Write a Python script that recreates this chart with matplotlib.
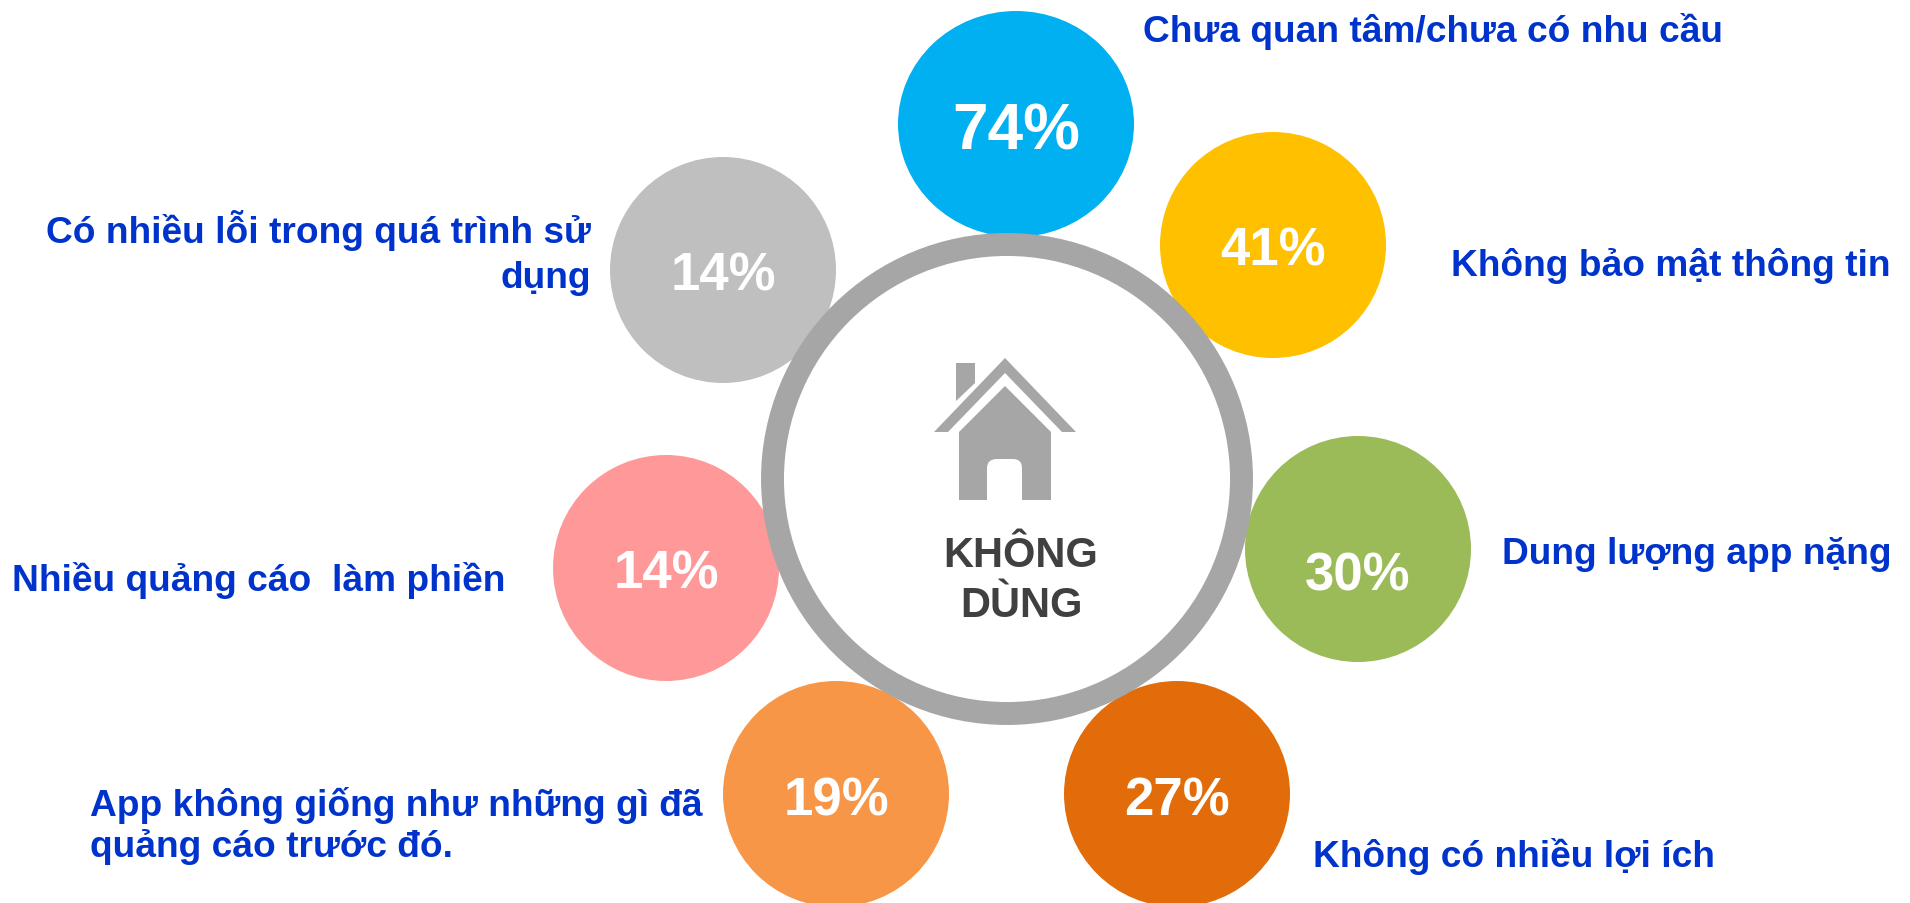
import matplotlib
matplotlib.use('Agg')
import matplotlib.pyplot as plt
from matplotlib.patches import Ellipse, Polygon, Circle, PathPatch
from matplotlib.path import Path

plt.rcParams['font.family'] = ['Liberation Sans', 'DejaVu Sans']

# values, clockwise from the top
labels = ['Chưa quan tâm/chưa có nhu cầu', 'Không bảo mật thông tin', 'Dung lượng app nặng',
          'Không có nhiều lợi ích', 'App không giống như những gì đã\nquảng cáo trước đó.',
          'Nhiều quảng cáo  làm phiền', 'Có nhiều lỗi trong quá trình sử\ndụng']
values = [74, 41, 30, 27, 19, 14, 14]
colors = ['#00B0F0', '#FFC000', '#9BBB59', '#E36C0A', '#F79646', '#FF9999', '#BFBFBF']
center_title = 'KHÔNG\nDÙNG'

# layout in reference pixels
bubble_x = [1016, 1273, 1358, 1177, 836, 666, 723]
bubble_y = [125, 246, 550, 795, 795, 569, 271]
bubble_w = [236, 226, 226, 226, 226, 226, 226]
bubble_h = [226, 226, 226, 226, 226, 226, 226]
pct_y = [132, 252, 577, 802, 802, 575, 277]
pct_size = [46, 38, 38, 38, 38, 38, 38]
label_x = [1143, 1451, 1502, 1313, 90, 12, 591]
label_y = [32, 266, 555, 857, 826, 581, 253]
label_ha = ['left', 'left', 'left', 'left', 'left', 'left', 'right']
label_gap = [1.12, 1.12, 1.12, 1.12, 1.18, 1.12, 1.37]

blue = '#0033CC'
gray = '#A6A6A6'

fig = plt.figure(figsize=(19.1, 9.04), dpi=100)
ax = fig.add_axes([0, 0, 1, 1])
ax.set_xlim(0, 1910)
ax.set_ylim(904, 0)
ax.axis('off')

for i in range(len(values)):
    ax.add_patch(Ellipse((bubble_x[i], bubble_y[i]), bubble_w[i], bubble_h[i], color=colors[i], lw=0, zorder=1))
    ax.text(bubble_x[i], pct_y[i], str(values[i]) + '%', color='white', fontsize=pct_size[i],
            fontweight='bold', ha='center', va='center', zorder=4)
    ax.text(label_x[i], label_y[i], labels[i], color=blue, fontsize=26.7, fontweight='bold',
            ha=label_ha[i], va='center', multialignment=label_ha[i], linespacing=label_gap[i], zorder=4)

# ring in the middle
ax.add_patch(Circle((1007, 480), 234.5, facecolor='white', edgecolor=gray, lw=16.5, zorder=2))

# house icon
roof = [(934, 433), (948, 433), (1005, 374), (1062, 433), (1076, 433), (1005, 359)]
chimney = [(956, 364), (975, 364), (975, 384), (956, 402)]
ax.add_patch(Polygon(roof, color=gray, lw=0, zorder=3))
ax.add_patch(Polygon(chimney, color=gray, lw=0, zorder=3))
body = [(959, 433), (1005, 387), (1051, 433), (1051, 501), (1022, 501), (1022, 469), (1022, 460), (1013, 460),
        (997, 460), (987, 460), (987, 469), (987, 501), (959, 501), (959, 433)]
codes = [Path.MOVETO, Path.LINETO, Path.LINETO, Path.LINETO, Path.LINETO, Path.LINETO, Path.CURVE3, Path.CURVE3,
         Path.LINETO, Path.CURVE3, Path.CURVE3, Path.LINETO, Path.LINETO, Path.CLOSEPOLY]
ax.add_patch(PathPatch(Path(body, codes), facecolor=gray, lw=0, zorder=3))

ax.text(1021, 581, center_title, color='#404040', fontsize=30, fontweight='bold', ha='center', va='center',
        linespacing=1.3, zorder=4)

fig.savefig('out.png', dpi=100)
